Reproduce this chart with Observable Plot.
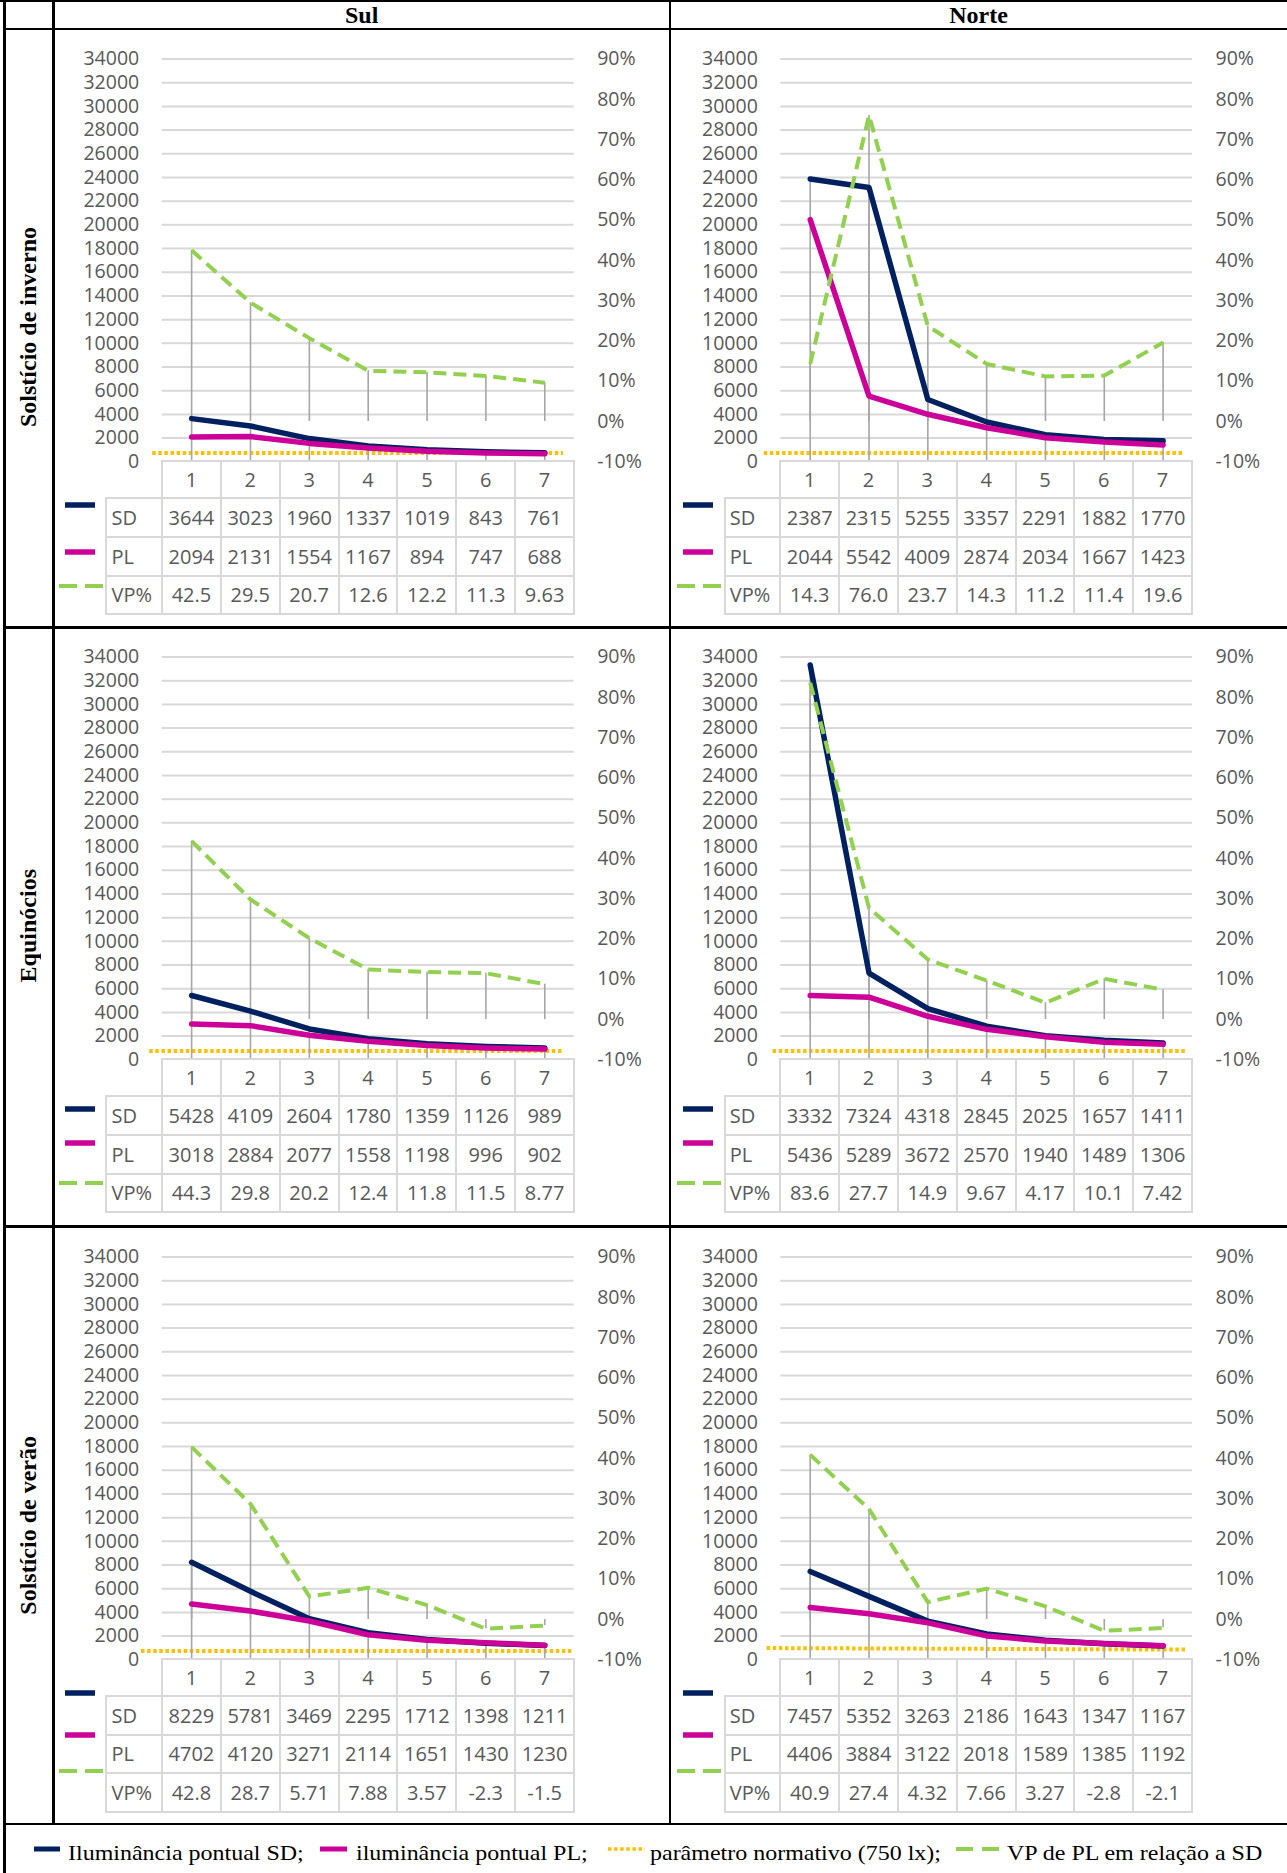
<!DOCTYPE html>
<html><head><meta charset="utf-8">
<script src="https://cdn.jsdelivr.net/npm/d3@7"></script>
<script src="https://cdn.jsdelivr.net/npm/@observablehq/plot@0.6"></script>
<style>
body{margin:0;background:#fff;}
#page{position:relative;width:1287px;height:1873px;overflow:hidden;background:#fff;}
.bl{position:absolute;background:#000;}
.tl{position:absolute;background:#d9d9d9;}
.hdr{position:absolute;top:0;height:29px;line-height:30px;text-align:center;font-family:"Liberation Serif","Times New Roman",serif;font-weight:bold;font-size:24px;color:#000;}
.rowlab{position:absolute;left:5px;width:47px;display:flex;align-items:center;justify-content:center;}
.rowlab span{writing-mode:vertical-rl;transform:rotate(180deg);font-family:"Liberation Serif","Times New Roman",serif;font-weight:bold;font-size:24px;color:#000;white-space:nowrap;}
.cell{position:absolute;display:flex;align-items:center;justify-content:center;color:#595959;font-family:"Open Sans",sans-serif;font-size:20px;white-space:nowrap;overflow:hidden;}
.lab{justify-content:flex-start;padding-left:5px;box-sizing:border-box;}
.panel{position:absolute;width:617px;height:597px;}
.panel svg.plot{position:absolute;left:0;top:0;}
.key{position:absolute;}
.leg{position:absolute;top:1838px;height:30px;line-height:30px;font-family:"Liberation Serif","Times New Roman",serif;font-size:22px;color:#000;white-space:nowrap;transform:scaleX(1.09);transform-origin:0 50%;}
</style></head>
<body><div id="page"></div>
<script>
// ---------- data ----------
const categories = [1, 2, 3, 4, 5, 6, 7];
const leftTicks = [0, 2000, 4000, 6000, 8000, 10000, 12000, 14000, 16000, 18000, 20000, 22000, 24000, 26000, 28000, 30000, 32000, 34000];
const pctTicks = [-10, 0, 10, 20, 30, 40, 50, 60, 70, 80, 90];
const colNames = ["Sul", "Norte"];
const rowNames = ["Solstício de inverno", "Equinócios", "Solstício de verão"];
const tableLabels = ["SD", "PL", "VP%"];
const legendLabels = ["Iluminância pontual SD;", "iluminância pontual PL;", "parâmetro normativo (750 lx);", "VP de PL em relação a SD"];

const sdSulInverno = [3644, 3023, 1960, 1337, 1019, 843, 761];
const plSulInverno = [2094, 2131, 1554, 1167, 894, 747, 688];
const vpSulInverno = [42.5, 29.5, 20.7, 12.6, 12.2, 11.3, 9.63];

const sdNorteInverno = [23870, 23150, 5255, 3357, 2291, 1882, 1770];
const plNorteInverno = [20440, 5542, 4009, 2874, 2034, 1667, 1423];
const vpNorteInverno = [14.3, 76.0, 23.7, 14.3, 11.2, 11.4, 19.6];

const sdSulEquinocios = [5428, 4109, 2604, 1780, 1359, 1126, 989];
const plSulEquinocios = [3018, 2884, 2077, 1558, 1198, 996, 902];
const vpSulEquinocios = [44.3, 29.8, 20.2, 12.4, 11.8, 11.5, 8.77];

const sdNorteEquinocios = [33320, 7324, 4318, 2845, 2025, 1657, 1411];
const plNorteEquinocios = [5436, 5289, 3672, 2570, 1940, 1489, 1306];
const vpNorteEquinocios = [83.6, 27.7, 14.9, 9.67, 4.17, 10.1, 7.42];

const sdSulVerao = [8229, 5781, 3469, 2295, 1712, 1398, 1211];
const plSulVerao = [4702, 4120, 3271, 2114, 1651, 1430, 1230];
const vpSulVerao = [42.8, 28.7, 5.71, 7.88, 3.57, -2.3, -1.5];

const sdNorteVerao = [7457, 5352, 3263, 2186, 1643, 1347, 1167];
const plNorteVerao = [4406, 3884, 3122, 2018, 1589, 1385, 1192];
const vpNorteVerao = [40.9, 27.4, 4.32, 7.66, 3.27, -2.8, -2.1];

// normative parameter line (x extent in category units, value in lx)
const thrXSulInverno = [0.33, 7.31], thrYSulInverno = [750, 750];
const thrXNorteInverno = [0.21, 7.36], thrYNorteInverno = [750, 750];
const thrXSulEquinocios = [0.28, 7.3], thrYSulEquinocios = [750, 750];
const thrXNorteEquinocios = [0.36, 7.37], thrYNorteEquinocios = [750, 750];
const thrXSulVerao = [0.14, 7.45], thrYSulVerao = [750, 750];
const thrXNorteVerao = [0.26, 7.4], thrYNorteVerao = [990, 860];

const panels = [
  {row: 0, col: 0, sd: sdSulInverno, pl: plSulInverno, vp: vpSulInverno, tx: thrXSulInverno, ty: thrYSulInverno},
  {row: 0, col: 1, sd: sdNorteInverno, pl: plNorteInverno, vp: vpNorteInverno, tx: thrXNorteInverno, ty: thrYNorteInverno},
  {row: 1, col: 0, sd: sdSulEquinocios, pl: plSulEquinocios, vp: vpSulEquinocios, tx: thrXSulEquinocios, ty: thrYSulEquinocios},
  {row: 1, col: 1, sd: sdNorteEquinocios, pl: plNorteEquinocios, vp: vpNorteEquinocios, tx: thrXNorteEquinocios, ty: thrYNorteEquinocios},
  {row: 2, col: 0, sd: sdSulVerao, pl: plSulVerao, vp: vpSulVerao, tx: thrXSulVerao, ty: thrYSulVerao},
  {row: 2, col: 1, sd: sdNorteVerao, pl: plNorteVerao, vp: vpNorteVerao, tx: thrXNorteVerao, ty: thrYNorteVerao}
];

// ---------- styles / layout ----------
const C_SD = "#002060", C_PL = "#cc0099", C_VP = "#92d050", C_THR = "#ffc000", C_DROP = "#a6a6a6";
const colLeft = [53.3, 670];
const rowTop = [29, 627, 1226.5];
const plotLR = [[108.7, 520.7], [110.3, 522]];
const PANEL_W = 617, SVG_H = 446, Y_TOP = 29.5, Y_BOT = 432.3;
const tableY = [432.3, 469.3, 508, 546.5, 585];
const keyY = [[476, 523, 557], [482, 516, 556], [466, 508, 544]];

const page = document.getElementById("page");
function div(cls, parent, css) {
  const d = document.createElement("div");
  d.className = cls;
  Object.assign(d.style, css);
  parent.appendChild(d);
  return d;
}
const px = v => v + "px";
const toP = v => (v + 10) / 100 * 34000;           // secondary (%) axis -> primary units
const fmtLux = v => String(v).slice(0, 4);          // cell width clips to 4 characters
const fmtVP = v => Number.isInteger(v) ? v.toFixed(1) : String(v);

function keySvg(parent, x1, x2, y, color, width, dash) {
  const w = x2 - x1, h = 12;
  const ns = "http://www.w3.org/2000/svg";
  const s = document.createElementNS(ns, "svg");
  s.setAttribute("width", w); s.setAttribute("height", h);
  s.setAttribute("class", "key");
  s.style.left = px(x1); s.style.top = px(y - h / 2);
  const l = document.createElementNS(ns, "line");
  l.setAttribute("x1", 0); l.setAttribute("x2", w);
  l.setAttribute("y1", h / 2); l.setAttribute("y2", h / 2);
  l.setAttribute("stroke", color); l.setAttribute("stroke-width", width);
  if (dash) l.setAttribute("stroke-dasharray", dash);
  s.appendChild(l);
  parent.appendChild(s);
}

// ---------- panels ----------
panels.forEach(p => {
  const [L, R] = plotLR[p.col];
  const rows = categories.map((c, i) => ({
    c, sd: p.sd[i], pl: p.pl[i], vp: p.vp[i], vpv: toP(p.vp[i]), top: Math.max(p.sd[i], p.pl[i])
  }));
  const thr = p.tx.map((x, i) => ({x, y: p.ty[i]}));

  const chart = Plot.plot({
    width: PANEL_W, height: SVG_H,
    marginLeft: L, marginRight: PANEL_W - R, marginTop: Y_TOP, marginBottom: SVG_H - Y_BOT,
    x: {domain: [0.5, 7.5], axis: null},
    y: {domain: [0, 34000], axis: null, label: null},
    style: {fontFamily: '"Open Sans", sans-serif', fontSize: "19.5px", color: "#595959", background: "transparent", overflow: "visible"},
    marks: [
      Plot.ruleY(leftTicks.filter(t => t > 0), {stroke: "#d9d9d9", strokeWidth: 2}),
      Plot.line(thr, {x: "x", y: "y", stroke: C_THR, strokeWidth: 4, strokeDasharray: "3.5,2.6", strokeLinecap: "butt"}),
      Plot.ruleX(rows, {x: "c", y1: () => toP(0), y2: "vpv", stroke: C_DROP, strokeWidth: 1.6}),
      Plot.ruleX(rows, {x: "c", y1: () => 0, y2: "top", stroke: C_DROP, strokeWidth: 1.6}),
      Plot.line(rows, {x: "c", y: "sd", stroke: C_SD, strokeWidth: 5.5}),
      Plot.line(rows, {x: "c", y: "pl", stroke: C_PL, strokeWidth: 5.5}),
      Plot.line(rows, {x: "c", y: "vpv", stroke: C_VP, strokeWidth: 4, strokeDasharray: "13,7", strokeLinecap: "butt"}),
      Plot.axisY(leftTicks, {anchor: "left", tickSize: 0, tickPadding: 23, label: null, tickFormat: d => String(d)}),
      Plot.axisY(pctTicks.map(toP), {anchor: "right", tickSize: 0, tickPadding: 23, label: null, tickFormat: d => Math.round(d / 340 - 10) + "%"})
    ]
  });

  const box = div("panel", page, {left: px(colLeft[p.col]), top: px(rowTop[p.row])});
  box.appendChild(chart);

  // data table under the chart, aligned on the x scale
  const xs = chart.scale("x");
  const x0 = xs.apply(0.5), x7 = xs.apply(7.5);
  const band = xs.apply(1.5) - xs.apply(0.5);
  const labL = x0 - 55.5;
  const ty = tableY;
  div("tl", box, {left: px(x0 - 1), top: px(ty[0] - 1), width: px(x7 - x0 + 2), height: "2px"});
  for (let i = 1; i < ty.length; i++) div("tl", box, {left: px(labL - 1), top: px(ty[i] - 1), width: px(x7 - labL + 2), height: "2px"});
  div("tl", box, {left: px(labL - 1), top: px(ty[1] - 1), width: "2px", height: px(ty[4] - ty[1] + 2)});
  for (let k = 0; k <= categories.length; k++) {
    const xx = xs.apply(0.5 + k);
    div("tl", box, {left: px(xx - 1), top: px(ty[0] - 1), width: "2px", height: px(ty[4] - ty[0] + 2)});
  }
  categories.forEach(c => {
    const cx = xs.apply(c - 0.5);
    const d = div("cell", box, {left: px(cx), top: px(ty[0]), width: px(band), height: px(ty[1] - ty[0])});
    d.textContent = String(c);
  });
  const series = [p.sd.map(fmtLux), p.pl.map(fmtLux), p.vp.map(fmtVP)];
  series.forEach((vals, r) => {
    const l = div("cell lab", box, {left: px(labL), top: px(ty[r + 1]), width: px(x0 - labL), height: px(ty[r + 2] - ty[r + 1])});
    l.textContent = tableLabels[r];
    vals.forEach((v, i) => {
      const d = div("cell", box, {left: px(xs.apply(categories[i] - 0.5)), top: px(ty[r + 1]), width: px(band), height: px(ty[r + 2] - ty[r + 1])});
      d.textContent = v;
    });
  });
  const ky = keyY[p.row];
  keySvg(box, x0 - 97, x0 - 67, ky[0], C_SD, 5.5);
  keySvg(box, x0 - 97, x0 - 67, ky[1], C_PL, 5.5);
  keySvg(box, x0 - 103, x0 - 59, ky[2], C_VP, 4, "18,8");
});

// ---------- frame (black lines) ----------
div("bl", page, {left: "0px", top: "0px", width: "1287px", height: "2px"});
div("bl", page, {left: "3px", top: "0px", width: "2.5px", height: "1873px"});
div("bl", page, {left: "52px", top: "0px", width: "2.5px", height: "1824px"});
div("bl", page, {left: "668.8px", top: "0px", width: "2.5px", height: "1824px"});
[27.8, 626, 1225.3, 1822.5].forEach(y => div("bl", page, {left: "3px", top: px(y), width: "1284px", height: "2.6px"}));

// column headers
colNames.forEach((n, i) => {
  const left = i === 0 ? 53.3 : 670, w = i === 0 ? 616.7 : 617;
  const d = div("hdr", page, {left: px(left), width: px(w)});
  d.textContent = n;
});
// row labels
rowNames.forEach((n, i) => {
  const d = div("rowlab", page, {top: px(rowTop[i]), height: "597px"});
  const s = document.createElement("span");
  s.textContent = n;
  d.appendChild(s);
});

// ---------- bottom legend ----------
const legKeys = [
  {x1: 33.5, x2: 59.8, color: C_SD, w: 5, dash: null, tx: 68},
  {x1: 320, x2: 347, color: C_PL, w: 5, dash: null, tx: 356},
  {x1: 608, x2: 645, color: C_THR, w: 3.5, dash: "3.5,2.6", tx: 650},
  {x1: 956, x2: 999, color: C_VP, w: 4, dash: "17,9", tx: 1007}
];
legKeys.forEach((k, i) => {
  keySvg(page, k.x1, k.x2, 1849, k.color, k.w, k.dash);
  const d = div("leg", page, {left: px(k.tx)});
  d.textContent = legendLabels[i];
});
</script>
</body></html>
